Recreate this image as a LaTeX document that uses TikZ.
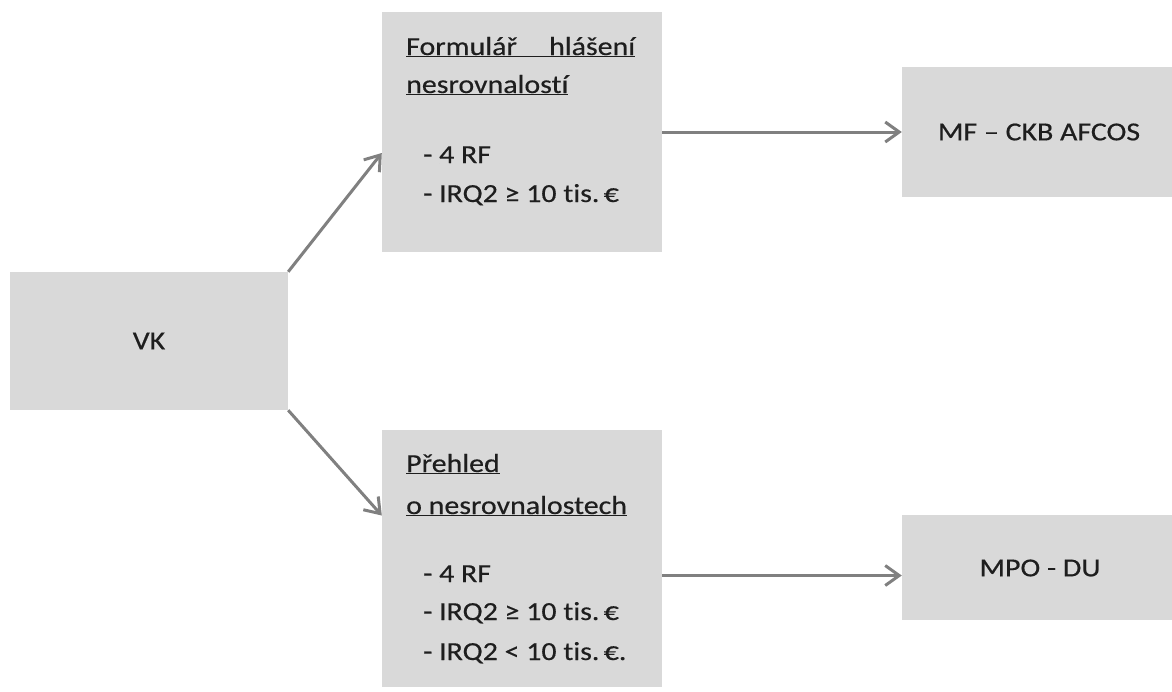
\documentclass[tikz,border=0pt]{standalone}
\usepackage{fontspec}
\setmainfont{Carlito}[FakeStretch=1.15, FakeBold=0.4, Ligatures={NoCommon}]
\usetikzlibrary{arrows.meta}
\definecolor{boxgray}{HTML}{D9D9D9}
\definecolor{arrowgray}{HTML}{808080}
\definecolor{textdark}{HTML}{1E1E1E}
\begin{document}
\begin{tikzpicture}[x=1pt,y=-1pt,
  box/.style={fill=boxgray, draw=none, inner sep=0pt, text=textdark, font=\fontsize{26}{31}\selectfont},
  txt/.style={anchor=base west, inner sep=0pt, text=textdark, font=\fontsize{26}{31}\selectfont},
  ctxt/.style={anchor=center, inner sep=0pt, text=textdark, font=\fontsize{26}{31}\selectfont},
  link/.style={draw=arrowgray, line width=3pt, -{Straight Barb[length=14pt,width=20pt]}}]
\useasboundingbox (0,0) rectangle (1172,691);
\fill[white] (0,0) rectangle (1172,691);
% boxes
\node[box, minimum width=278pt, minimum height=138pt] (vk) at (149,341) {VK};
\node[box, minimum width=280pt, minimum height=240pt] (top) at (522,132) {};
\node[box, minimum width=280pt, minimum height=257pt] (bot) at (522,558.5) {};
\node[box, minimum width=270pt, minimum height=130pt] (mf) at (1037,132) {};
\node[box, minimum width=270pt, minimum height=105pt] (mpo) at (1037,567.5) {};
% labels in right boxes
\node[ctxt] (mflbl) at (1039,132) {MF – CKB AFCOS};
\node[ctxt] (mpolbl) at (1040,568) {MPO - DU};
% top box text
\node[txt] (t1) at (406,55) {\underline{\makebox[229pt][s]{Formulář hlášení}}};
\node[txt] (t2) at (406,93) {\underline{nesrovnalostí}};
\node[txt] (t3) at (423,163) {- 4 RF};
\node[txt] (t4) at (423,202) {- IRQ2 ≥ 10 tis.\,€};
% bottom box text
\node[txt] (b1) at (406,472) {\underline{Přehled}};
\node[txt] (b2) at (406,514) {\underline{o nesrovnalostech}};
\node[txt] (b3) at (423,582) {- 4 RF};
\node[txt] (b4) at (423,620) {- IRQ2 ≥ 10 tis.\,€};
\node[txt] (b5) at (423,660) {- IRQ2 < 10 tis.\,€.};
% connectors
\coordinate (bend) at ([yshift=-17pt]bot.east);
\draw[link] (vk.north east) -- ([yshift=-21pt]top.west);
\draw[link] (vk.south east) -- ([yshift=43pt]bot.west);
\draw[link] (top.east) -- (mf.west);
\draw[link] (bend) -- (bend -| mpo.west);
\end{tikzpicture}
\end{document}
